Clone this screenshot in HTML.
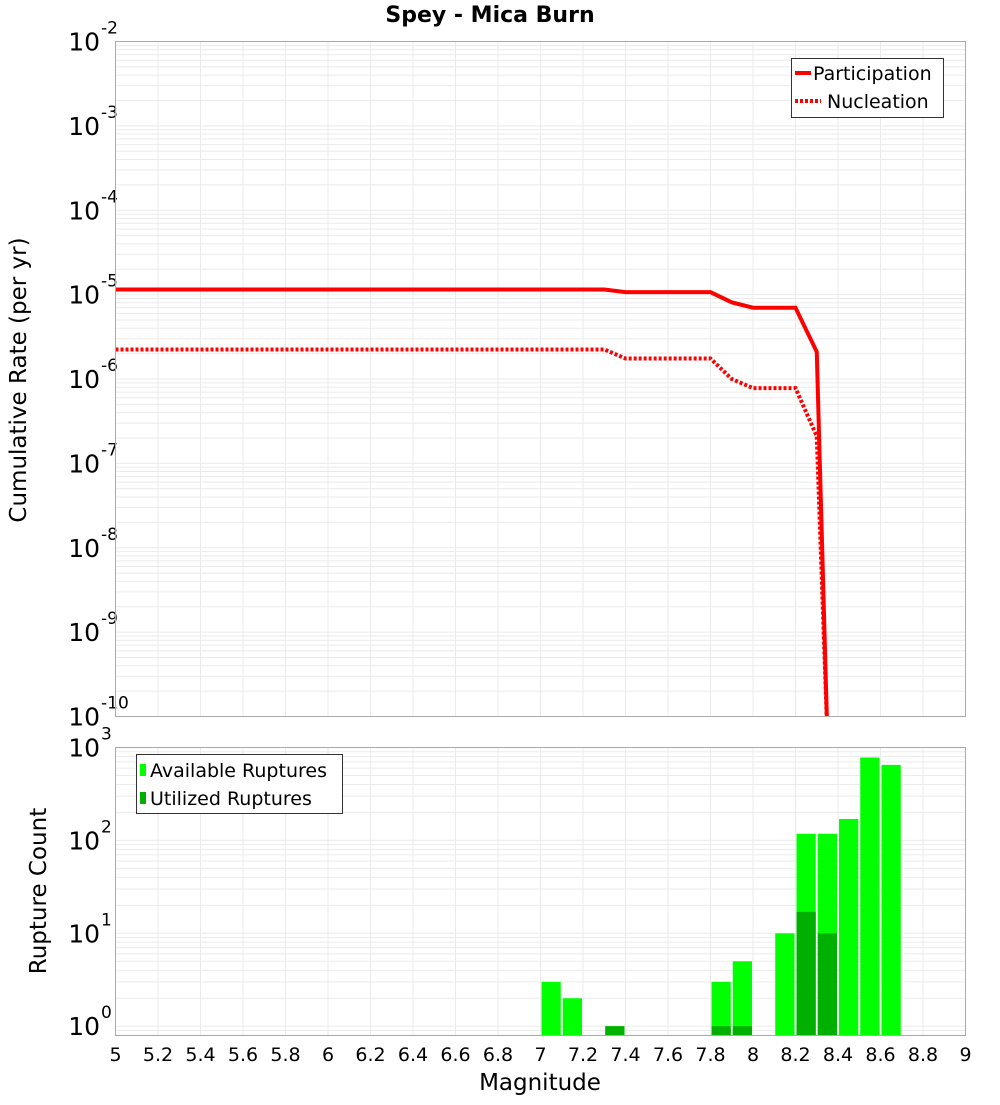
<!DOCTYPE html>
<html><head><meta charset="utf-8"><style>
body{margin:0;background:#fff;font-family:"Liberation Sans","DejaVu Sans",sans-serif}
svg text{font-family:"DejaVu Sans","Liberation Sans",sans-serif}
</style></head><body>
<svg id="c" width="1000" height="1100" xmlns="http://www.w3.org/2000/svg">
<text x="490" y="22" text-anchor="middle" font-size="22" font-weight="bold">Spey - Mica Burn</text>
<text transform="translate(26,380) rotate(-90)" text-anchor="middle" font-size="23">Cumulative Rate (per yr)</text>
<text transform="translate(46,891) rotate(-90)" text-anchor="middle" font-size="23">Rupture Count</text>
<text x="540" y="1090" text-anchor="middle" font-size="23">Magnitude</text>
<g id="g"></g>
</svg>
<script>
const partM=[5.0,7.3,7.4,7.8,7.9,8.0,8.2,8.3,8.35];
const partV=[1.15e-5,1.15e-5,1.07e-5,1.07e-5,8.1e-6,7.0e-6,7.0e-6,2.1e-6,1e-12];
const nuclM=[5.0,7.3,7.4,7.8,7.9,8.0,8.2,8.3,8.35];
const nuclV=[2.24e-6,2.24e-6,1.75e-6,1.75e-6,1.0e-6,7.8e-7,7.8e-7,2.1e-7,1e-12];
const binM=[7.0,7.1,7.3,7.8,7.9,8.1,8.2,8.3,8.4,8.5,8.6];
const availV=[3,2,1,3,5,10,118,118,170,780,650];
const utilV=[0,0,1,1,1,0,17,10,0,0,0];
const xTicks=[5,5.2,5.4,5.6,5.8,6,6.2,6.4,6.6,6.8,7,7.2,7.4,7.6,7.8,8,8.2,8.4,8.6,8.8,9];

const NS="http://www.w3.org/2000/svg";
const g=document.getElementById('g');
function mk(t,a,p){const e=document.createElementNS(NS,t);for(const k in a)e.setAttribute(k,a[k]);(p||g).appendChild(e);return e;}
const X0=115.5,X1=965.5;
const xs=m=>X0+(m-5)/4*(X1-X0);
const T={top:41.5,bot:716.5,lmin:-10,lmax:-2};
const B={top:747.5,bot:1035.5,lmin:-0.1,lmax:3};
const ys=(P,v)=>{const l=Math.log10(v);return P.bot-(l-P.lmin)/(P.lmax-P.lmin)*(P.bot-P.top);};
const ysTop=v=>ys(T,v), ysBot=v=>ys(B,v);

function grid(P,name){
  for(let d=Math.floor(P.lmin);d<=P.lmax;d++){
    for(let k=1;k<10;k++){const l=d+Math.log10(k);if(l<P.lmin||l>P.lmax)continue;
      const y=P.bot-(l-P.lmin)/(P.lmax-P.lmin)*(P.bot-P.top);
      const ln=mk('line',{x1:X0,x2:X1,y1:y,y2:y,stroke:'#ebebeb','stroke-width':1});
      
      }
  }
  xTicks.forEach(m=>{const ln=mk('line',{x1:xs(m),x2:xs(m),y1:P.top,y2:P.bot,stroke:'#ebebeb','stroke-width':1});
    
    });
  for(let d=Math.ceil(P.lmin);d<=P.lmax;d++){
    const y=P.bot-(d-P.lmin)/(P.lmax-P.lmin)*(P.bot-P.top);
    const t=mk('text',{x:100,y:y+9,'text-anchor':'end','font-size':25});
    
    
    t.textContent='10';
    const s=mk('text',{x:101,y:y-8,'font-size':17});
    
    
    s.textContent=String(d);
  }
}
grid(T,'top');grid(B,'bottom');

function line(M,V,dash,name){
  const pts=M.map((m,i)=>xs(m)+','+Math.min(ysTop(V[i]),T.bot+20)).join(' ');
  const p=mk('polyline',{points:pts,fill:'none',stroke:'#ff0000','stroke-width':4,'stroke-dasharray':dash||'none','clip-path':'url(#clipTop)'});
  
  
}
const defs=mk('defs',{});
const cp=mk('clipPath',{id:'clipTop'},defs);mk('rect',{x:X0,y:T.top,width:X1-X0,height:T.bot-T.top},cp);
line(partM,partV,null,'participation-line');
line(nuclM,nuclV,'3,2','nucleation-line');

binM.forEach((m,i)=>{
  const x=xs(m)+1,w=xs(m+0.1)-xs(m)-2;
  const y=ysBot(availV[i]);
  const r=mk('rect',{x:x,y:y,width:w,height:B.bot-y,fill:'#00ff00'});
  
  
  if(utilV[i]>0){const yu=ysBot(utilV[i]);
    const u=mk('rect',{x:x,y:yu,width:w,height:B.bot-yu,fill:'#00b000'});
    
    }
});

[T,B].forEach((P,i)=>{const r=mk('rect',{x:X0,y:P.top,width:X1-X0,height:P.bot-P.top,fill:'none',stroke:'#aaa','stroke-width':1});
  
  });

xTicks.forEach(m=>{const t=mk('text',{x:xs(m),y:1061,'text-anchor':'middle','font-size':19});
  
  
  t.textContent=String(m);});

const l1=mk('g',{});


mk('rect',{x:791.5,y:58.5,width:152,height:59,fill:'#fff',stroke:'#333'},l1);
mk('line',{x1:795,x2:811,y1:73,y2:73,stroke:'#f00','stroke-width':4},l1);
mk('line',{x1:795,x2:821,y1:101,y2:101,stroke:'#f00','stroke-width':4,'stroke-dasharray':'3,2'},l1);
let t=mk('text',{x:813,y:80,'font-size':19},l1);t.textContent='Participation';
t=mk('text',{x:827,y:108,'font-size':19},l1);t.textContent='Nucleation';
const l2=mk('g',{});


mk('rect',{x:136.5,y:754.5,width:206,height:59,fill:'#fff',stroke:'#333'},l2);
mk('rect',{x:140,y:764,width:6,height:12,fill:'#00ff00'},l2);
mk('rect',{x:140,y:792,width:6,height:12,fill:'#00b000'},l2);
t=mk('text',{x:150,y:777,'font-size':19},l2);t.textContent='Available Ruptures';
t=mk('text',{x:150,y:805,'font-size':19},l2);t.textContent='Utilized Ruptures';
</script>
</body></html>
